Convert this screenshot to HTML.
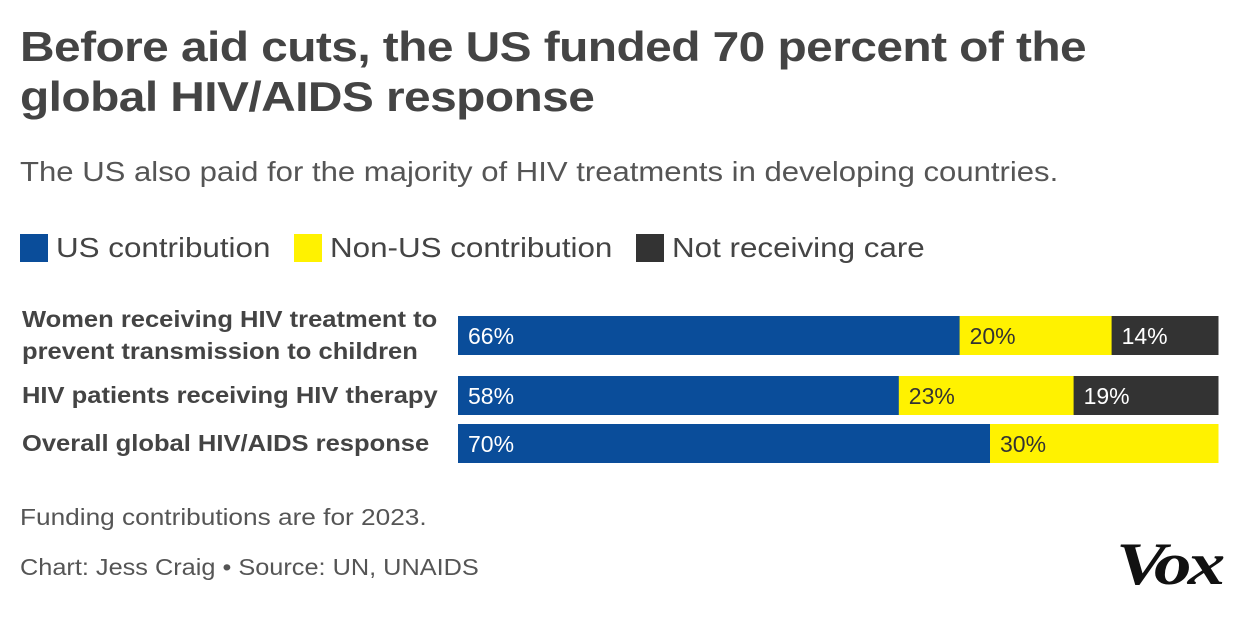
<!DOCTYPE html>
<html><head><meta charset="utf-8"><style>
body{margin:0;width:1240px;height:620px;background:#fff;position:relative;overflow:hidden;font-family:"Liberation Sans",sans-serif;color:#444}
.a{position:absolute;white-space:nowrap;transform-origin:0 0}
h1{position:absolute;left:20px;top:22px;margin:0;font-size:42px;line-height:50px;font-weight:bold;color:#444;letter-spacing:-0.5px;white-space:nowrap;transform:scaleX(1.14);transform-origin:0 0}
.lg{position:absolute;top:232px;font-size:28px;color:#444;display:flex;align-items:center}
.sw{width:28px;height:28px;margin-right:8px;display:inline-block}
.lt{display:inline-block;transform:scaleX(1.12);transform-origin:0 50%}
.cat{position:absolute;left:22px;font-size:23px;font-weight:bold;color:#444;line-height:32px;white-space:nowrap;transform:scaleX(1.11);transform-origin:0 0}
</style></head><body>
<h1>Before aid cuts, the US funded 70 percent of the<br>global HIV/AIDS response</h1>
<div class="a" style="left:20px;top:156px;font-size:28px;color:#555;transform:scaleX(1.11)">The US also paid for the majority of HIV treatments in developing countries.</div>
<div class="lg" style="left:20px"><span class="sw" style="background:#0a4d9a"></span><span class="lt">US contribution</span></div>
<div class="lg" style="left:294px"><span class="sw" style="background:#fff200"></span><span class="lt">Non-US contribution</span></div>
<div class="lg" style="left:636px"><span class="sw" style="background:#333"></span><span class="lt">Not receiving care</span></div>
<div class="cat" style="top:303px">Women receiving HIV treatment to<br>prevent transmission to children</div>
<div class="cat" style="top:379px">HIV patients receiving HIV therapy</div>
<div class="cat" style="top:427px">Overall global HIV/AIDS response</div>
<svg id="chart" width="1240" height="620" style="position:absolute;left:0;top:0"></svg>
<div class="a" style="left:20px;top:504px;font-size:23px;color:#555;transform:scaleX(1.14)">Funding contributions are for 2023.</div>
<div class="a" style="left:20px;top:554px;font-size:23px;color:#555;transform:scaleX(1.1)">Chart: Jess Craig • Source: UN, UNAIDS</div>
<div class="a" style="left:1116px;top:530px;font-family:'Liberation Serif',serif;font-style:italic;font-weight:bold;font-size:60px;color:#111;letter-spacing:-3px;transform:scaleX(1.25)">Vox</div>
<script>
const categories=["Women","Patients","Overall"];
const usValues=[66,58,70];
const nonUsValues=[20,23,30];
const notReceivingValues=[14,19,0];
const colors=["#0a4d9a","#fff200","#333333"];
const textColors=["#fff","#333","#fff"];
const svg=document.getElementById('chart');
const x0=458,x1=1218;
const xs=v=>v/100*(x1-x0);
const barTops=[316,376,424],barH=39;
const NS="http://www.w3.org/2000/svg";
categories.forEach((c,i)=>{
  const vals=[usValues[i],nonUsValues[i],notReceivingValues[i]];
  let acc=0;
  vals.forEach((v,j)=>{
    if(v<=0)return;
    const r=document.createElementNS(NS,'rect');
    
    
    r.setAttribute('x',x0+xs(acc));r.setAttribute('y',barTops[i]);
    r.setAttribute('width',xs(v)+0.5);r.setAttribute('height',barH);
    r.setAttribute('fill',colors[j]);svg.appendChild(r);
    const t=document.createElementNS(NS,'text');
    
    
    t.setAttribute('x',x0+xs(acc)+10);t.setAttribute('y',barTops[i]+28);
    t.setAttribute('font-size','23');t.setAttribute('font-family','Liberation Sans, sans-serif');
    t.setAttribute('fill',textColors[j]);t.textContent=v+'%';svg.appendChild(t);
    acc+=v;
  });
});
</script>
</body></html>
